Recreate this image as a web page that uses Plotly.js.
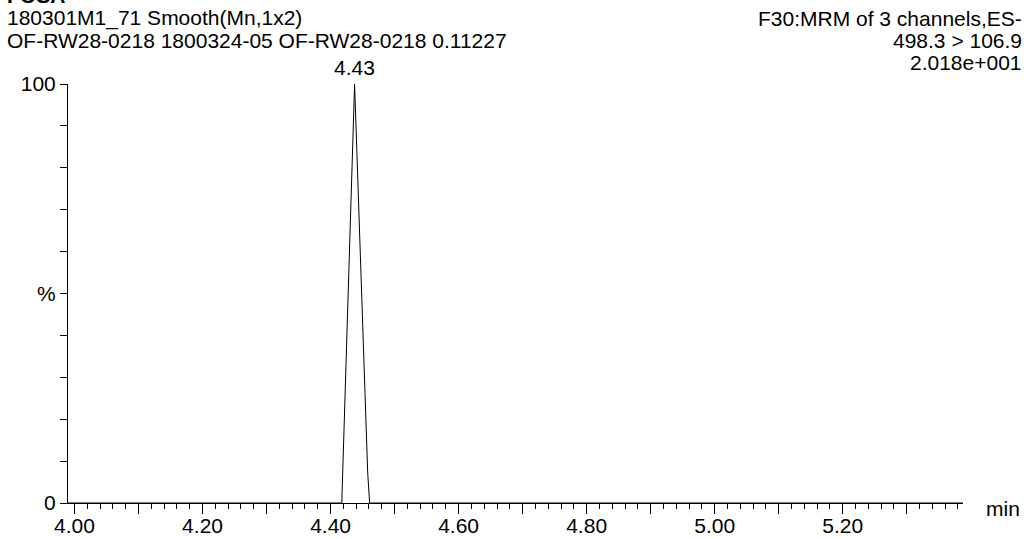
<!DOCTYPE html>
<html>
<head>
<meta charset="utf-8">
<script src="https://cdn.plot.ly/plotly-3.0.1.min.js"></script>
<style>html,body{margin:0;padding:0;background:#fff;}#chart{width:1035px;height:539px;}</style>
</head>
<body>
<div id="chart"></div>
<script>
// Data
const retentionTime = [3.9898, 4.4175, 4.4375, 4.458, 4.461, 5.388];
const relIntensity  = [0, 0, 100, 7.2, 0, 0];
const peakLabel = "4.43";
const peakTime = 4.4375;

const xMajorTicks = [4.0,4.1,4.2,4.3,4.4,4.5,4.6,4.7,4.8,4.9,5.0,5.1,5.2,5.3];
const xTickText   = ["4.00","","4.20","","4.40","","4.60","","4.80","","5.00","","5.20",""];
const yTicks      = [0,10,20,30,40,50,60,70,80,90,100];
const yTickText   = ["0","","","","","%","","","","","100"];

const headerLeft  = ["180301M1_71 Smooth(Mn,1x2)", "OF-RW28-0218 1800324-05 OF-RW28-0218 0.11227"];
const headerRight = ["F30:MRM of 3 channels,ES-", "498.3 > 106.9", "2.018e+001"];
const compound = "FOSA";
const xUnit = "min";

const F = "Liberation Sans, Arial, Helvetica, sans-serif";
const FS = 21;

const trace = {
  x: retentionTime, y: relIntensity, type: "scatter", mode: "lines",
  line: {color: "#000", width: 1}, hoverinfo: "none"
};

const ann = [];
headerLeft.forEach((t,i)=>ann.push({xref:"paper",yref:"paper",x:-0.0704,y:[1.1575,1.105][i],
  xanchor:"left",yanchor:"middle",text:t,showarrow:false,font:{family:F,size:FS,color:"#000"}}));
headerRight.forEach((t,i)=>ann.push({xref:"paper",yref:"paper",x:1.068,y:[1.1575,1.105,1.0525][i],
  xanchor:"right",yanchor:"middle",text:t,showarrow:false,font:{family:F,size:FS,color:"#000"}}));
ann.push({xref:"x",yref:"y",x:peakTime,y:100,xanchor:"center",yanchor:"bottom",text:peakLabel,
  showarrow:false,font:{family:F,size:FS,color:"#000"},yshift:3});
ann.push({xref:"paper",yref:"paper",x:1.024,y:-0.012,xanchor:"left",yanchor:"middle",text:xUnit,
  showarrow:false,font:{family:F,size:FS,color:"#000"}});
ann.push({xref:"paper",yref:"paper",x:-0.0704,y:1.178,xanchor:"left",yanchor:"bottom",text:"<b>"+compound+"</b>",
  showarrow:false,font:{family:F,size:FS,color:"#000"}});

const layout = {
  width:1035, height:539,
  margin:{l:68, r:72, t:84, b:36, pad:0},
  paper_bgcolor:"#fff", plot_bgcolor:"#fff",
  showlegend:false,
  font:{family:F,size:FS,color:"#000"},
  xaxis:{range:[3.9898,5.388], showgrid:false, zeroline:false, showline:true, linecolor:"#000", linewidth:1,
    tickmode:"array", tickvals:xMajorTicks, ticktext:xTickText, ticks:"outside", ticklen:10, tickcolor:"#000", tickwidth:1,
    minor:{tick0:4.0, dtick:0.02, ticks:"outside", ticklen:5, tickcolor:"#000", tickwidth:1, showgrid:false},
    ticklabelstandoff:-6, tickfont:{family:F,size:FS,color:"#000"}},
  yaxis:{range:[0,100], showgrid:false, zeroline:false, showline:true, linecolor:"#000", linewidth:1,
    tickmode:"array", tickvals:yTicks, ticktext:yTickText, ticks:"outside", ticklen:7, tickcolor:"#000", tickwidth:1,
    ticklabelstandoff:0, tickfont:{family:F,size:FS,color:"#000"}},
  annotations: ann
};

Plotly.newPlot("chart",[trace],layout,{staticPlot:true,displayModeBar:false});
</script>
</body>
</html>
